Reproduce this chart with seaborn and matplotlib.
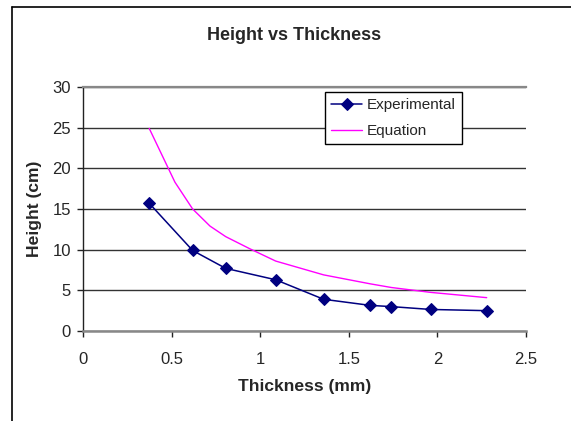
import matplotlib
matplotlib.use("Agg")
import matplotlib.pyplot as plt
from matplotlib.lines import Line2D
import seaborn as sns
import pandas as pd

# Data
exp_thickness = [0.372, 0.617, 0.804, 1.086, 1.357, 1.620, 1.739, 1.961, 2.278]
exp_height = [15.7, 9.9, 7.7, 6.3, 3.9, 3.15, 3.0, 2.65, 2.5]
eq_thickness = [0.372, 0.517, 0.617, 0.715, 0.804, 0.941, 1.086, 1.357, 1.620, 1.739, 1.961, 2.278]
eq_height = [24.9, 18.3, 15.0, 12.9, 11.6, 10.1, 8.6, 6.9, 5.8, 5.35, 4.75, 4.1]
x_ticks = [0, 0.5, 1, 1.5, 2, 2.5]
x_tick_labels = ["0", "0.5", "1", "1.5", "2", "2.5"]
y_ticks = [0, 5, 10, 15, 20, 25, 30]

sns.set_style("white")
plt.rcParams["font.family"] = ["Liberation Sans", "DejaVu Sans"]

W, H = 571, 421
fig = plt.figure(figsize=(W / 100, H / 100), dpi=100)
ax = fig.add_axes([83.4 / W, 1 - 331 / H, (526 - 83.4) / W, (331 - 87) / H])

exp_df = pd.DataFrame({"x": exp_thickness, "y": exp_height})
eq_df = pd.DataFrame({"x": eq_thickness, "y": eq_height})

sns.lineplot(data=exp_df, x="x", y="y", ax=ax, color="#000080", lw=1.1,
             marker="D", markersize=6.3, markeredgecolor="#000080",
             label="Experimental", sort=False)
sns.lineplot(data=eq_df, x="x", y="y", ax=ax, color="#FF00FF", lw=1.0,
             label="Equation", sort=False)

ax.set_xlim(0, 2.5)
ax.set_ylim(0, 30)
ax.set_xticks(x_ticks)
ax.set_xticklabels(x_tick_labels)
ax.set_yticks(y_ticks)
ax.yaxis.grid(True, color="#333333", lw=1.0)
ax.xaxis.grid(False)
ax.set_axisbelow(True)

ax.spines["right"].set_visible(False)
ax.spines["top"].set_color("#888888")
ax.spines["top"].set_linewidth(1.6)
ax.spines["bottom"].set_color("#888888")
ax.spines["bottom"].set_linewidth(1.8)
ax.spines["left"].set_color("#222222")
ax.spines["left"].set_linewidth(1.0)

ax.tick_params(axis="y", direction="out", length=4, width=1, color="#222222",
               labelsize=12, pad=5, left=True)
ax.tick_params(axis="x", direction="out", length=4, width=1, color="#222222",
               labelsize=12, pad=11, bottom=True)

ax.set_xlabel("Thickness (mm)", fontsize=12.6, fontweight="bold")
ax.set_ylabel("Height (cm)", fontsize=12.6, fontweight="bold")
ax.xaxis.set_label_coords(0.5, (331 - 387) / 244)
ax.xaxis.label.set_va("center")
ax.yaxis.set_label_coords((34 - 83.4) / 442.6, 0.5)
ax.yaxis.label.set_va("center")

fig.text(294 / W, 1 - 35 / H, "Height vs Thickness", fontsize=13, fontweight="bold",
         ha="center", va="center")

leg = ax.legend(loc="upper left", bbox_to_anchor=(0.5466, 0.978), fontsize=11,
                frameon=True, fancybox=False, framealpha=1, edgecolor="black",
                borderpad=0.4, handlelength=2.0, handletextpad=0.3,
                labelspacing=0.75, borderaxespad=0)
leg.get_frame().set_linewidth(1.0)

# chart-area border (left and top edges visible)
fig.add_artist(Line2D([12 / W, 12 / W], [0, 1 - 7 / H], transform=fig.transFigure,
                      color="black", lw=1.2))
fig.add_artist(Line2D([12 / W, 1], [1 - 7 / H, 1 - 7 / H], transform=fig.transFigure,
                      color="black", lw=1.2))

fig.savefig("out.png", dpi=100)
